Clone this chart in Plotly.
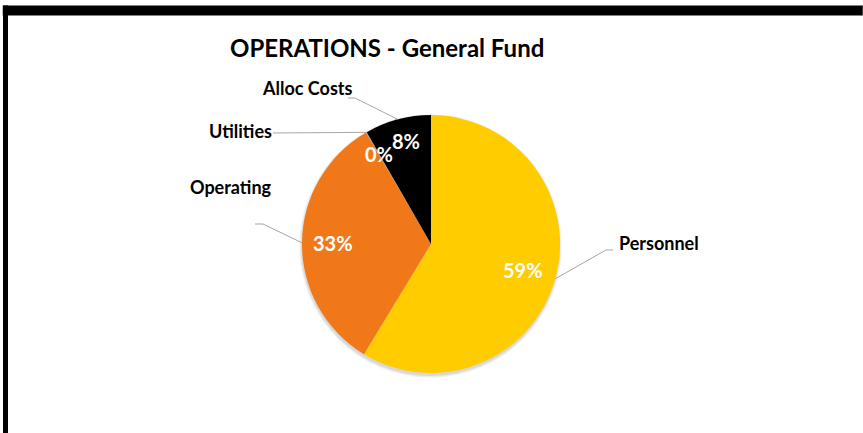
import math
import plotly.graph_objects as go

# ---- data ----
categories = ["Personnel", "Operating", "Utilities", "Alloc Costs"]
values = [58.7, 32.9, 0.1, 8.3]
colors = ["#FFCC00", "#F07818", "#A5A5A5", "#000000"]
title_text = "OPERATIONS - General Fund"

W, H = 863, 433
CX, CY, R = 431, 244, 129   # pie centre / radius in pixels

def px(x):
    return x / W

def py(y):
    return 1 - y / H

fig = go.Figure()
fig.add_trace(go.Pie(
    labels=categories,
    values=values,
    sort=False,
    direction="clockwise",
    rotation=0,
    marker=dict(colors=colors, line=dict(width=0)),
    textinfo="none",
    hoverinfo="label+percent",
    showlegend=False,
    domain=dict(x=[px(CX - R), px(CX + R)], y=[py(CY + R), py(CY - R)]),
))

total = sum(values)
mids = []
cum = 0
for v in values:
    mids.append((cum + v / 2) / total * 360)
    cum += v

def pt(angle, r):
    a = math.radians(angle)
    return CX + r * math.sin(a), CY - r * math.cos(a)

annotations = []
shapes = []

# soft shadow behind the pie
for k, op in [(4, 0.035), (3, 0.05), (2, 0.07)]:
    shapes.append(dict(type="circle", xref="paper", yref="paper", layer="below",
                       x0=px(CX - R - k + 1), x1=px(CX + R + k - 2),
                       y0=py(CY + R + k + 1), y1=py(CY - R - k + 3),
                       fillcolor="rgba(0,0,0,%f)" % op, line=dict(width=0)))

# percentage labels inside slices
pct_radius = [0.74, 0.76, 0.81, 0.83]
for i, v in enumerate(values):
    x, y = pt(mids[i], R * pct_radius[i])
    if i == 3:
        x += 3
    annotations.append(dict(
        x=px(x), y=py(y), xref="paper", yref="paper",
        text="<b>%d%%</b>" % round(v / total * 100),
        showarrow=False, font=dict(family="Lato", size=20, color="white"),
        xanchor="center", yanchor="middle"))

# outside category labels and leader lines
label_pos = {
    "Personnel": (617, 243, [(606, 250), (613, 250)]),
    "Operating": (188, 187, [(263, 224), (255, 224)]),
    "Utilities": (207, 131, [(273, 133)]),
    "Alloc Costs": (260, 88, [(355, 98), (348, 98)]),
}
for i, cat in enumerate(categories):
    lx, ly, pts = label_pos[cat]
    annotations.append(dict(
        x=px(lx), y=py(ly), xref="paper", yref="paper",
        text="<b>%s</b>" % cat, showarrow=False,
        font=dict(family="Lato", size=18, color="black"),
        xanchor="left", yanchor="middle"))
    ex, ey = pt(mids[i], R)
    path_pts = [(ex, ey)] + pts
    d = "M " + " L ".join("%f,%f" % (px(a), py(b)) for a, b in path_pts)
    shapes.append(dict(type="path", path=d, xref="paper", yref="paper",
                       line=dict(color="#A6A6A6", width=1)))

# title
annotations.append(dict(
    x=px(387), y=py(48), xref="paper", yref="paper",
    text="<b>%s</b>" % title_text, showarrow=False,
    font=dict(family="Lato", size=24, color="black"),
    xanchor="center", yanchor="middle"))

# frame: top black bar and left black bar
shapes.append(dict(type="rect", xref="paper", yref="paper",
                   x0=px(3), x1=1.0, y0=py(15.5), y1=py(5.5),
                   fillcolor="black", line=dict(color="#808080", width=1)))
shapes.append(dict(type="rect", xref="paper", yref="paper",
                   x0=px(3), x1=px(8), y0=0, y1=py(5.5),
                   fillcolor="black", line=dict(width=0)))

fig.update_layout(
    width=W, height=H,
    margin=dict(l=0, r=0, t=0, b=0),
    paper_bgcolor="white", plot_bgcolor="white",
    annotations=annotations, shapes=shapes,
)

fig.write_html("out.html",
               config={"displayModeBar": False},
               post_script="document.body.style.margin='0px';document.body.style.overflow='hidden';")
